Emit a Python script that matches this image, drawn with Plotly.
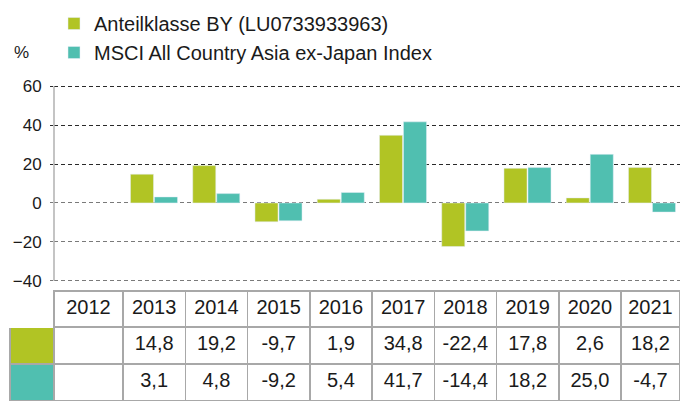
import plotly.graph_objects as go

years = [2012, 2013, 2014, 2015, 2016, 2017, 2018, 2019, 2020, 2021]
fund = [None, 14.8, 19.2, -9.7, 1.9, 34.8, -22.4, 17.8, 2.6, 18.2]
index = [None, 3.1, 4.8, -9.2, 5.4, 41.7, -14.4, 18.2, 25.0, -4.7]
fund_name = "Anteilklasse BY (LU0733933963)"
index_name = "MSCI All Country Asia ex-Japan Index"
pos_ticks = [20, 40, 60]
neg_ticks = [-40, -20, 0]

GREEN = "#B1C424"
TEAL = "#50BFB0"
GRID_DARK = "#2a2a2a"
GRID_GREY = "#7a7a7a"
BORDER = "#a8a8a8"
TXT = "#1a1a1a"
FONT = "Liberation Sans"

W, H = 680, 401
PX_PER_UNIT = 1.944
PAD = 0.6  # range padding so the end gridlines are drawn


def fmt(v):
    return "" if v is None else f"{v:.1f}".replace(".", ",")


fig = go.Figure()
fig.add_trace(go.Bar(x=years, y=fund, name=fund_name, marker_color=GREEN, yaxis="y"))
fig.add_trace(go.Bar(x=years, y=index, name=index_name, marker_color=TEAL, yaxis="y"))

# table
header_vals = [""] + [str(y) for y in years]
cell_vals = [["", ""]] + [[fmt(f), fmt(i)] for f, i in zip(fund, index)]
fill_cols = [[GREEN, TEAL]] + [["white", "white"]] * len(years)
fig.add_trace(go.Table(
    domain=dict(x=[10 / W, 1], y=[0, 1 - 291 / H]),
    columnwidth=[44, 69] + [62.25] * 8 + [59],
    header=dict(values=header_vals, height=36, align="center",
                fill_color="white",
                line=dict(color=["white"] + [BORDER] * len(years), width=1.5),
                font=dict(family=FONT, size=20, color=TXT)),
    cells=dict(values=cell_vals, height=37, align="center",
               fill_color=fill_cols,
               line=dict(color=BORDER, width=1.5),
               font=dict(family=FONT, size=20, color=TXT)),
))

top_px = 86.3 - PAD * PX_PER_UNIT
bot_px = 280.7 + PAD * PX_PER_UNIT
ydom = [1 - bot_px / H, 1 - top_px / H]
yrange = [-40 - PAD, 60 + PAD]
xrange_ = [2012 - 37.75 / 62.25, 2021 + 28 / 62.25]

fig.update_layout(
    width=W, height=H,
    margin=dict(l=0, r=0, t=0, b=0),
    paper_bgcolor="white", plot_bgcolor="white",
    font=dict(family=FONT, color=TXT),
    barmode="group", bargap=0.229, bargroupgap=0.04,
    showlegend=True,
    legend=dict(x=54 / W, y=1 - 4 / H, xanchor="left", yanchor="top",
                font=dict(family=FONT, size=20, color=TXT),
                bgcolor="rgba(0,0,0,0)", tracegroupgap=0),
    xaxis=dict(domain=[54 / W, 1], range=xrange_, showgrid=False, showticklabels=False,
               zeroline=False, showline=False, ticks=""),
    yaxis=dict(domain=ydom, range=yrange, tickvals=pos_ticks, showgrid=True,
               gridcolor=GRID_DARK, griddash="4px,3px", gridwidth=1.4,
               zeroline=False, showline=False,
               ticks="outside", ticklen=3, tickcolor=GRID_DARK, tickwidth=1.4,
               ticklabelstandoff=5, automargin=False,
               tickfont=dict(family=FONT, size=17, color=TXT)),
    yaxis2=dict(domain=ydom, range=yrange, overlaying="y", tickvals=neg_ticks,
                showgrid=True, gridcolor=GRID_GREY, griddash="4px,3px", gridwidth=1.4,
                zeroline=False, showline=False, side="left",
                ticks="outside", ticklen=3, tickcolor=GRID_GREY, tickwidth=1.4,
                ticklabelstandoff=5, automargin=False,
                tickfont=dict(family=FONT, size=17, color=TXT)),
)
# dummy trace to activate yaxis2 gridlines
fig.add_trace(go.Scatter(x=[years[0]], y=[None], yaxis="y2", showlegend=False,
                         hoverinfo="skip"))

# vertical axis line spanning -40..60
fig.add_shape(type="line", xref="x domain", yref="y", x0=0, x1=0, y0=-40, y1=60,
              line=dict(color="#b0b0b0", width=1.5), layer="above")

fig.add_annotation(text="%", xref="paper", yref="paper", x=12 / W, y=1 - 52 / H,
                   xanchor="left", yanchor="middle", showarrow=False,
                   font=dict(family=FONT, size=17, color=TXT))

fig.write_html("out.html", config={"displayModeBar": False},
               post_script="document.body.style.margin='0';document.body.style.overflow='hidden';")
